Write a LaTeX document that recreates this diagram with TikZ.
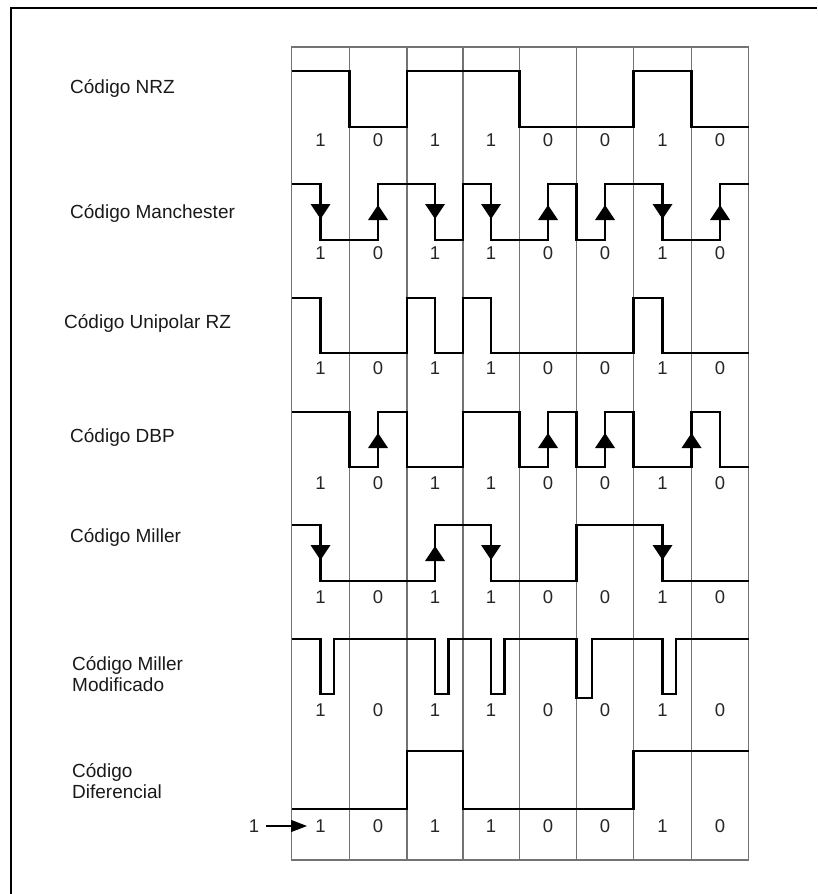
\documentclass[tikz,border=0pt]{standalone}
\usepackage{fontspec}
\setmainfont{Liberation Sans}
\usetikzlibrary{arrows.meta}
\begin{document}
\begin{tikzpicture}[x=1pt,y=-1pt,
  grid/.style={draw=black!55,line width=1.1pt},
  frame/.style={draw=black,line width=2pt},
  sig/.style={draw=black,line width=2.1pt,line join=miter},
  tri/.style={fill=black},
  lbl/.style={anchor=west,inner sep=0pt,font=\fontsize{19}{20.5}\selectfont,text=black!90},
  dig/.style={inner sep=0pt,font=\fontsize{18.5}{20}\selectfont,text=black!85}]
\useasboundingbox (0,0) rectangle (817,894);
% column edges
\def\cA{291.5}\def\cB{349.5}\def\cC{407}\def\cD{463}\def\cE{519.5}
\def\cF{576.5}\def\cG{633.5}\def\cH{691.5}\def\cI{748.5}
% column middles
\def\mA{320.5}\def\mB{378}\def\mC{435}\def\mD{491}
\def\mE{548}\def\mF{605}\def\mG{662.5}\def\mH{720}
\newcommand\arrdn[2]{\fill[tri] ({#1-10},{#2-8}) -- ({#1+10},{#2-8}) -- (#1,{#2+7}) -- cycle;}
\newcommand\arrup[2]{\fill[tri] ({#1-10},{#2+8}) -- ({#1+10},{#2+8}) -- (#1,{#2-7}) -- cycle;}
% outer frame (top and left only)
\draw[frame] (11,894) -- (11,8) -- (817,8);
% grid
\draw[grid] (\cA,47) rectangle (\cI,860);
\foreach \x in {\cB,\cC,\cD,\cE,\cF,\cG,\cH} \draw[grid] (\x,47) -- (\x,860);
% row titles
\node[lbl] (tNRZ) at (70,88) {Código NRZ};
\node[lbl] (tMan) at (70,213) {Código Manchester};
\node[lbl] (tRZ) at (64,323) {Código Unipolar RZ};
\node[lbl] (tDBP) at (70,437) {Código DBP};
\node[lbl] (tMil) at (70,537) {Código Miller};
\node[lbl,align=left] (tMM) at (72,674) {Código Miller\\Modificado};
\node[lbl,align=left] (tDif) at (72,781) {Código\\Diferencial};
% NRZ
\draw[sig] (\cA,71) -- (\cB,71) -- (\cB,127) -- (\cC,127) -- (\cC,71) -- (\cE,71) -- (\cE,127)
  -- (\cG,127) -- (\cG,71) -- (\cH,71) -- (\cH,127) -- (\cI,127);
% Manchester
\draw[sig] (\cA,184) -- (\mA,184) -- (\mA,240) -- (\mB,240) -- (\mB,184) -- (\mC,184) -- (\mC,240)
  -- (\cD,240) -- (\cD,184) -- (\mD,184) -- (\mD,240) -- (\mE,240) -- (\mE,184) -- (\cF,184)
  -- (\cF,240) -- (\mF,240) -- (\mF,184) -- (\mG,184) -- (\mG,240) -- (\mH,240) -- (\mH,184) -- (\cI,184);
\arrdn{\mA}{212}\arrup{\mB}{212}\arrdn{\mC}{212}\arrdn{\mD}{212}
\arrup{\mE}{212}\arrup{\mF}{212}\arrdn{\mG}{212}\arrup{\mH}{212}
% Unipolar RZ
\draw[sig] (\cA,298) -- (\mA,298) -- (\mA,353) -- (\cC,353) -- (\cC,298) -- (\mC,298) -- (\mC,353)
  -- (\cD,353) -- (\cD,298) -- (\mD,298) -- (\mD,353) -- (\cG,353) -- (\cG,298) -- (\mG,298)
  -- (\mG,353) -- (\cI,353);
% DBP
\draw[sig] (\cA,412) -- (\cB,412) -- (\cB,467) -- (\mB,467) -- (\mB,412) -- (\cC,412) -- (\cC,467)
  -- (\cD,467) -- (\cD,412) -- (\cE,412) -- (\cE,467) -- (\mE,467) -- (\mE,412) -- (\cF,412)
  -- (\cF,467) -- (\mF,467) -- (\mF,412) -- (\cG,412) -- (\cG,467) -- (\cH,467) -- (\cH,412)
  -- (\mH,412) -- (\mH,467) -- (\cI,467);
\arrup{\mB}{440}\arrup{\mE}{440}\arrup{\mF}{440}\arrup{\cH}{440}
% Miller
\draw[sig] (\cA,525) -- (\mA,525) -- (\mA,581) -- (\mC,581) -- (\mC,525) -- (\mD,525) -- (\mD,581)
  -- (\cF,581) -- (\cF,525) -- (\mG,525) -- (\mG,581) -- (\cI,581);
\arrdn{\mA}{553}\arrup{\mC}{553}\arrdn{\mD}{553}\arrdn{\mG}{553}
% Miller modificado
\draw[sig] (\cA,639) -- (\mA,639) -- (\mA,694) -- ({\mA+13.5},694) -- ({\mA+13.5},639)
  -- (\mC,639) -- (\mC,694) -- ({\mC+13.5},694) -- ({\mC+13.5},639)
  -- (\mD,639) -- (\mD,694) -- ({\mD+13.5},694) -- ({\mD+13.5},639)
  -- (\cF,639) -- (\cF,698) -- ({\cF+15.5},698) -- ({\cF+15.5},639)
  -- (\mG,639) -- (\mG,694) -- ({\mG+13.5},694) -- ({\mG+13.5},639) -- (\cI,639);
% Diferencial
\draw[sig] (\cA,809) -- (\cC,809) -- (\cC,751) -- (\cD,751) -- (\cD,809) -- (\cG,809) -- (\cG,751) -- (\cI,751);
% bit labels
\foreach \y in {140,253,368,483,597,710,826}{
  \foreach \x/\b in {\mA/1,\mB/0,\mC/1,\mD/1,\mE/0,\mF/0,\mG/1,\mH/0}
    \node[dig] at (\x,\y) {\b};
}
% initial state marker
\node[dig] (one) at (254,826) {1};
\coordinate (tip) at (307,826);
\draw[line width=1.2pt,-{Triangle[length=16pt,width=12pt]}] (one.east) ++(7,0) -- (tip);
\end{tikzpicture}
\end{document}
